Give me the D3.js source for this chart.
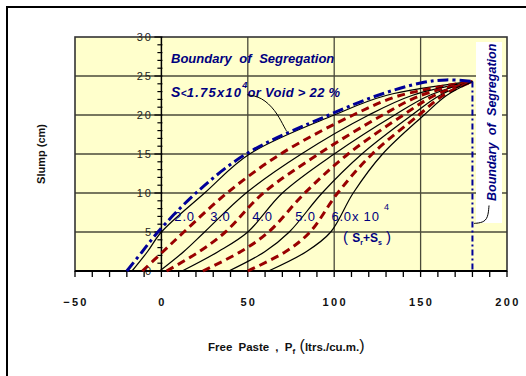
<!DOCTYPE html>
<html>
<head>
<meta charset="utf-8">
<script src="https://cdn.jsdelivr.net/npm/d3@7"></script>
<style>
  body { margin: 0; background: #fff; }
  svg { display: block; }
  text { font-family: "Liberation Sans", Arial, sans-serif; }
</style>
</head>
<body>
<div id="chart"></div>
<script>
const slumpLevels = [0, 2.5, 5, 10, 15, 20, 22.5];
const endPoint = [180, 24.3];

// boundary of segregation (dash-dot)
const boundaryX = [-20, -11, -2, 20, 49, 97, 125];
const boundaryTop = [[150, 24.1], [165, 24.5]];

// S = Sr + Ss (x10^4), black = whole values, red dashed = halves
const sValues = [2.0, 2.5, 3.0, 3.5, 4.0, 4.5, 5.0, 5.5, 6.0];
const curveX = [
  [-17, -8, 0, 25, 51, 100, 130],
  [-11, 1, 13, 38, 69, 111, 138],
  [-1, 13, 25, 49, 81, 120, 145],
  [3, 22, 37, 59, 91, 128, 150],
  [12, 33, 50, 70, 100, 135, 155],
  [24, 46, 62, 83, 108, 140, 158],
  [39, 60, 74, 93, 116, 145, 161],
  [50, 72, 86, 102, 122, 149, 163],
  [62, 84, 98, 111, 128, 152, 165]
];

const xTicks = [-50, 0, 50, 100, 150, 200];
const yTicks = [0, 5, 10, 15, 20, 25, 30];
const curveLabels = ["2.0", "3.0", "4.0", "5.0", "6.0x 10"];

const width = 526, height = 376;
const navy = "#00007f";

const svg = d3.select("#chart").append("svg")
  .attr("width", width)
  .attr("height", height);

// outer frame (only left and top show in the picture)
svg.append("rect")
  .attr("x", 7).attr("y", 7)
  .attr("width", 560).attr("height", 420)
  .attr("fill", "none").attr("stroke", "#000").attr("stroke-width", 2);

const x = d3.scaleLinear().domain([-50, 200]).range([75, 507]);
const y = d3.scaleLinear().domain([0, 30]).range([271, 37]);

// plot area
svg.append("rect")
  .attr("x", x(-50)).attr("y", y(30))
  .attr("width", x(200) - x(-50)).attr("height", y(0) - y(30))
  .attr("fill", "#ffffcc");

// grid
const grid = svg.append("g").attr("stroke", "#4a4a3a").attr("stroke-width", 1.3);
grid.selectAll(".gx").data([50, 100, 150]).enter().append("line")
  .attr("x1", d => x(d)).attr("x2", d => x(d))
  .attr("y1", y(0)).attr("y2", y(30));
grid.selectAll(".gy").data([5, 10, 15, 20, 25]).enter().append("line")
  .attr("x1", x(-50)).attr("x2", x(200))
  .attr("y1", d => y(d)).attr("y2", d => y(d));

// white box behind the vertical note
svg.append("rect")
  .attr("x", 476).attr("y", 42).attr("width", 26).attr("height", 181)
  .attr("fill", "#fff");

// plot border
svg.append("rect")
  .attr("x", x(-50)).attr("y", y(30))
  .attr("width", x(200) - x(-50)).attr("height", y(0) - y(30))
  .attr("fill", "none").attr("stroke", "#333").attr("stroke-width", 1.6);

// y tick labels (drawn over the grid)
svg.selectAll(".ylab").data(yTicks).enter().append("text")
  .attr("x", 153).attr("y", d => y(d))
  .attr("dy", "0.36em")
  .attr("text-anchor", "end")
  .attr("font-size", 11)
  .attr("letter-spacing", 2)
  .attr("fill", "#222")
  .text(d => d);

// y axis at x = 0 with minor ticks
svg.append("line")
  .attr("x1", x(0)).attr("x2", x(0)).attr("y1", y(0)).attr("y2", y(30))
  .attr("stroke", "#000").attr("stroke-width", 1.5);
svg.selectAll(".ytick").data(d3.range(0, 31)).enter().append("line")
  .attr("x1", d => x(0) - (d % 5 === 0 ? 7 : 4)).attr("x2", x(0) + 1)
  .attr("y1", d => y(d)).attr("y2", d => y(d))
  .attr("stroke", "#000").attr("stroke-width", 1.2);

// x axis at y = 0
svg.append("line")
  .attr("x1", x(-50)).attr("x2", x(200)).attr("y1", y(0)).attr("y2", y(0))
  .attr("stroke", "#000").attr("stroke-width", 2);
svg.selectAll(".xtick").data(d3.range(-50, 201, 10)).enter().append("line")
  .attr("x1", d => x(d)).attr("x2", d => x(d))
  .attr("y1", y(0)).attr("y2", y(0) + 6)
  .attr("stroke", "#000").attr("stroke-width", 1.3);
svg.selectAll(".xlab").data(xTicks).enter().append("text")
  .attr("x", d => x(d) + 1).attr("y", 306)
  .attr("text-anchor", "middle")
  .attr("font-size", 11).attr("font-weight", "bold")
  .attr("letter-spacing", 2.3)
  .attr("fill", "#111")
  .text(d => d < 0 ? "\u2212" + Math.abs(d) : d);

// curves
const line = d3.line()
  .x(d => x(d[0]))
  .y(d => y(d[1]))
  .curve(d3.curveCatmullRom.alpha(0.5));

const curves = sValues.map((s, k) => ({
  s: s,
  pts: slumpLevels.map((lv, i) => [curveX[k][i], lv]).concat([endPoint])
}));

svg.selectAll(".curve").data(curves).enter().append("path")
  .attr("d", d => line(d.pts))
  .attr("fill", "none")
  .attr("stroke", d => Number.isInteger(d.s) ? "#000" : "#990000")
  .attr("stroke-width", d => Number.isInteger(d.s) ? 1.2 : 3)
  .attr("stroke-dasharray", d => Number.isInteger(d.s) ? null : "8,5");

const boundaryPts = slumpLevels.map((lv, i) => [boundaryX[i], lv])
  .concat(boundaryTop, [endPoint]);
svg.append("path")
  .attr("d", line(boundaryPts))
  .attr("fill", "none")
  .attr("stroke", "#000099")
  .attr("stroke-width", 3)
  .attr("stroke-dasharray", "11,4,3,4");

// vertical boundary at P = 180
svg.append("line")
  .attr("x1", x(endPoint[0])).attr("x2", x(endPoint[0]))
  .attr("y1", y(endPoint[1])).attr("y2", y(0))
  .attr("stroke", "#000099").attr("stroke-width", 2)
  .attr("stroke-dasharray", "6,3,2,3");

// curve labels
const labelAt = [7.5, 28.2, 52.6, 77.5, 98.4];
svg.selectAll(".clab").data(curveLabels).enter().append("text")
  .attr("x", (d, i) => x(labelAt[i])).attr("y", 221)
  .attr("font-size", 13).attr("letter-spacing", 0.8)
  .attr("fill", navy)
  .text(d => d);
svg.append("text")
  .attr("x", 384).attr("y", 210)
  .attr("font-size", 9).attr("fill", navy)
  .text("4");
const ss = svg.append("text")
  .attr("x", 343).attr("y", 242)
  .attr("font-size", 12).attr("font-weight", "bold").attr("fill", navy);
ss.append("tspan").attr("font-size", 15).attr("font-weight", "normal").text("( ");
ss.append("tspan").text("S");
ss.append("tspan").attr("font-size", 7).attr("dy", 3).text("r");
ss.append("tspan").attr("dy", -3).text("+S");
ss.append("tspan").attr("font-size", 7).attr("dy", 3).text("s");
ss.append("tspan").attr("dy", -3).attr("font-size", 15).attr("font-weight", "normal").text(" )");

// notes
svg.append("text")
  .attr("x", 171).attr("y", 63)
  .attr("font-size", 13).attr("font-weight", "bold").attr("font-style", "italic")
  .attr("fill", navy).attr("word-spacing", 4)
  .text("Boundary of Segregation");

const sn = svg.append("text")
  .attr("x", 171).attr("y", 97)
  .attr("font-size", 13).attr("font-weight", "bold").attr("font-style", "italic")
  .attr("fill", navy).attr("letter-spacing", 0.3);
sn.append("tspan").attr("font-size", 14).text("S");
sn.append("tspan").attr("font-size", 10).text("<");
sn.append("tspan").attr("letter-spacing", 1.2).text("1.75x10");
sn.append("tspan").attr("font-size", 9).attr("dy", -9).text("4");
sn.append("tspan").attr("dy", 9).text("or Void > 22 %");

const leader = d3.line().x(d => x(d[0])).y(d => y(d[1])).curve(d3.curveBasis);
svg.append("path")
  .attr("d", leader([[49.7, 22.6], [58, 22.3], [66, 20.6], [70.5, 18.7], [72.5, 17.9]]))
  .attr("fill", "none").attr("stroke", "#000").attr("stroke-width", 1);

svg.append("text")
  .attr("transform", "translate(496,201) rotate(-90)")
  .attr("font-size", 12.5).attr("font-weight", "bold").attr("font-style", "italic")
  .attr("fill", navy).attr("word-spacing", 4)
  .text("Boundary of Segregation");
svg.append("path")
  .attr("d", leader([[189.6, 8.4], [189, 6.8], [186, 6.2], [181, 6.1]]))
  .attr("fill", "none").attr("stroke", "#000").attr("stroke-width", 1);

// axis titles
svg.append("text")
  .attr("transform", "translate(45,154) rotate(-90)")
  .attr("text-anchor", "middle")
  .attr("font-size", 11).attr("font-weight", "bold").attr("fill", "#111")
  .text("Slump (cm)");

const xt = svg.append("text")
  .attr("x", 208).attr("y", 351)
  .attr("font-size", 11.5).attr("font-weight", "bold").attr("fill", "#111");
xt.append("tspan").attr("word-spacing", 3).text("Free Paste , P");
xt.append("tspan").attr("font-size", 8).attr("dy", 3).text("f");
xt.append("tspan").attr("dy", -3).attr("font-size", 16).attr("font-weight", "normal").text(" (");
xt.append("tspan").text("ltrs./cu.m.");
xt.append("tspan").attr("font-size", 16).attr("font-weight", "normal").text(")");
</script>
</body>
</html>
